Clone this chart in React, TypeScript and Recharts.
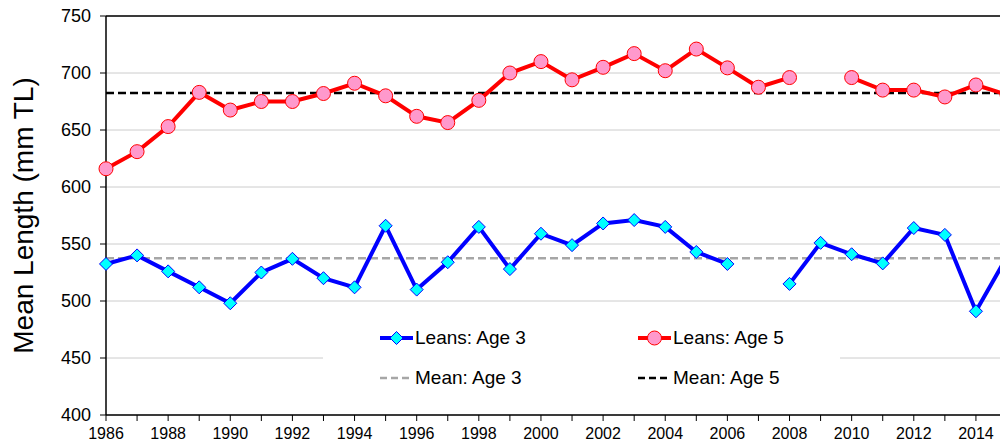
import { LineChart, Line, XAxis, YAxis, CartesianGrid, ReferenceLine } from 'recharts'

const YEARS = [
  1986, 1987, 1988, 1989, 1990, 1991, 1992, 1993, 1994, 1995,
  1996, 1997, 1998, 1999, 2000, 2001, 2002, 2003, 2004, 2005,
  2006, 2007, 2008, 2009, 2010, 2011, 2012, 2013, 2014, 2015,
]

const AGE3 = [
  532.5, 540, 526, 512, 498, 525, 537, 520, 512, 566,
  510, 534, 565, 528, 559, 549, 568, 571, 565, 543,
  532.5, null, 515, 551, 541, 533, 564, 558, 491, 539,
]

const AGE5 = [
  616, 631, 653, 683, 667.5, 675, 675, 682, 691, 680,
  662, 656.5, 676, 700, 710, 694, 705, 717, 702, 721,
  704.5, 687.5, 696, null, 696, 685, 685, 679, 689.5, 681,
]

const MEAN_AGE3 = 537.5
const MEAN_AGE5 = 682.5

const Y_TICKS = [400, 450, 500, 550, 600, 650, 700, 750]
const X_LABELS = [1986, 1988, 1990, 1992, 1994, 1996, 1998, 2000, 2002, 2004, 2006, 2008, 2010, 2012, 2014]

const SERIES_NAMES = ['Leans: Age 3', 'Mean: Age 3', 'Leans: Age 5', 'Mean: Age 5']

const data = YEARS.map((year, i) => ({ year, age3: AGE3[i], age5: AGE5[i] }))

const FONT = "Arial, 'Liberation Sans', sans-serif"

function Diamond(props: any) {
  const { cx, cy, index } = props
  if (cx == null || cy == null || props.value == null) return <g key={index} />
  const s = 6.5
  return (
    <path
      key={index}
      d={`M${cx},${cy - s}L${cx + s},${cy}L${cx},${cy + s}L${cx - s},${cy}Z`}
      fill="#00ffff"
      stroke="#0000ff"
      strokeWidth={1}
    />
  )
}

function LegendIcon({ kind }: { kind: number }) {
  return (
    <svg width={34} height={16} style={{ display: 'block' }}>
      {kind === 0 && (
        <>
          <line x1={0} y1={8} x2={33} y2={8} stroke="#0000ff" strokeWidth={4} />
          <path d="M16.5,1.5L23,8L16.5,14.5L10,8Z" fill="#00ffff" stroke="#0000ff" strokeWidth={1} />
        </>
      )}
      {kind === 1 && <line x1={0} y1={8} x2={31} y2={8} stroke="#a6a6a6" strokeWidth={2.5} strokeDasharray="7 4" />}
      {kind === 2 && (
        <>
          <line x1={0} y1={8} x2={33} y2={8} stroke="#ff0000" strokeWidth={4} />
          <circle cx={16.5} cy={8} r={7} fill="#ff99cc" stroke="#ff0000" strokeWidth={1} />
        </>
      )}
      {kind === 3 && <line x1={0} y1={8} x2={31} y2={8} stroke="#000000" strokeWidth={2.5} strokeDasharray="7 4" />}
    </svg>
  )
}

export default function App() {
  return (
    <div style={{ position: 'absolute', left: 0, top: 0, width: 1000, height: 446, overflow: 'hidden', background: '#fff', fontFamily: FONT }}>
      <LineChart width={1020} height={446} data={data} margin={{ top: 16, right: 13, left: 10, bottom: 0 }}>
        <CartesianGrid horizontal vertical={false} stroke="#cccccc" strokeWidth={1} />
        <XAxis
          dataKey="year"
          type="number"
          domain={[1986, 2015]}
          ticks={YEARS}
          interval={0}
          tickFormatter={(v: number) => (X_LABELS.includes(v) ? String(v) : '')}
          axisLine={{ stroke: '#000', strokeWidth: 1.5 }}
          tickLine={{ stroke: '#000' }}
          tickSize={6}
          tickMargin={7}
          height={31}
          tick={{ fill: '#000', fontSize: 16, fontFamily: FONT }}
        />
        <YAxis
          domain={[400, 750]}
          ticks={Y_TICKS}
          interval={0}
          width={96}
          axisLine={{ stroke: '#000', strokeWidth: 1.5 }}
          tickLine={{ stroke: '#000' }}
          tickSize={6}
          tickMargin={9}
          tick={{ fill: '#000', fontSize: 18, fontFamily: FONT }}
          label={(p: any) => {
            const vb = p.viewBox || { x: 10, y: 16, width: 96, height: 399 }
            const x = vb.x + 13
            const y = vb.y + vb.height / 2
            return (
              <text
                x={x}
                y={y}
                transform={`rotate(-90, ${x}, ${y})`}
                textAnchor="middle"
                dominantBaseline="central"
                fontSize={28}
                fontFamily={FONT}
                fill="#000"
              >
                Mean Length (mm TL)
              </text>
            )
          }}
        />
        <ReferenceLine y={750} stroke="#000" strokeWidth={1.5} />
        <ReferenceLine y={MEAN_AGE3} stroke="#a6a6a6" strokeWidth={2.5} strokeDasharray="8 4" />
        <ReferenceLine y={MEAN_AGE5} stroke="#000000" strokeWidth={2.5} strokeDasharray="8 4" />
        <Line
          dataKey="age3"
          name={SERIES_NAMES[0]}
          stroke="#0000ff"
          strokeWidth={4}
          dot={Diamond}
          connectNulls={false}
          isAnimationActive={false}
        />
        <Line
          dataKey="age5"
          name={SERIES_NAMES[2]}
          stroke="#ff0000"
          strokeWidth={4}
          dot={{ r: 7, fill: '#ff99cc', stroke: '#ff0000', strokeWidth: 1 }}
          connectNulls={false}
          isAnimationActive={false}
        />
      </LineChart>
      <div
        style={{
          position: 'absolute',
          left: 323,
          top: 312,
          width: 517,
          height: 92,
          background: '#fff',
        }}
      >
        {SERIES_NAMES.map((name, i) => (
          <div
            key={name}
            style={{
              position: 'absolute',
              left: i < 2 ? 57 : 315,
              top: i % 2 === 0 ? 15 : 55,
              height: 22,
              display: 'flex',
              alignItems: 'center',
              fontSize: 19,
              color: '#000',
              whiteSpace: 'nowrap',
            }}
          >
            <LegendIcon kind={i} />
            <span style={{ marginLeft: 1 }}>{name}</span>
          </div>
        ))}
      </div>
    </div>
  )
}
